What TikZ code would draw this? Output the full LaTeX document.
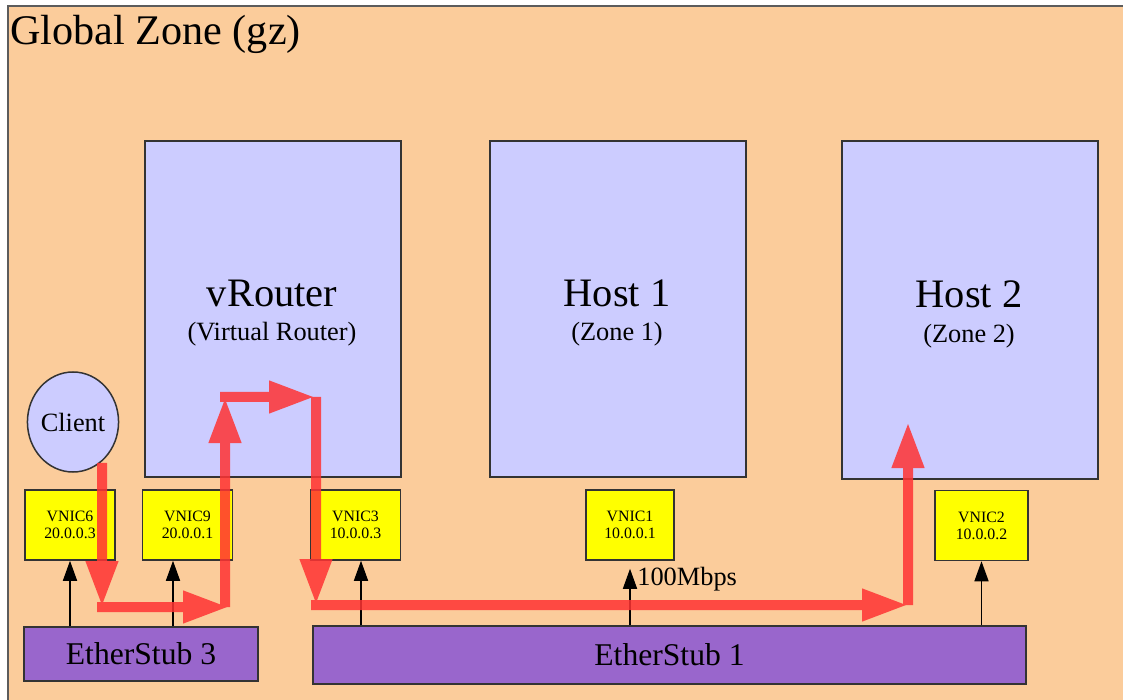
\documentclass[tikz,border=0pt]{standalone}
\usepackage{fontspec}
\setmainfont{Liberation Serif}
\usetikzlibrary{arrows.meta,shapes.geometric}
\definecolor{zonebg}{RGB}{251,204,155}
\definecolor{hostfill}{RGB}{204,204,255}
\definecolor{vnicfill}{RGB}{255,255,0}
\definecolor{stubfill}{RGB}{153,102,204}
\definecolor{flowred}{RGB}{255,51,51}
\definecolor{edgegray}{RGB}{51,51,51}

\begin{document}
\begin{tikzpicture}[x=0.2mm,y=-0.2mm,
  zonebox/.style={draw=edgegray,line width=0.3mm,fill=hostfill,inner sep=0pt,minimum width=51.2mm,minimum height=67.2mm},
  vnic/.style={draw=edgegray,line width=0.3mm,fill=vnicfill,inner sep=0pt,minimum width=18mm,minimum height=14mm,align=center,font=\fontsize{9}{9.7}\selectfont},
  stub/.style={draw=edgegray,line width=0.3mm,fill=stubfill,inner sep=0pt,font=\fontsize{18}{18}\selectfont},
  bigname/.style={anchor=base,font=\fontsize{23}{23}\selectfont},
  subname/.style={anchor=base,font=\fontsize{15}{15}\selectfont},
  link/.style={line width=0.3mm,-{Triangle[length=4mm,width=2.8mm]}},
  flow/.style={flowred,line width=2mm,-{Triangle[length=9.2mm,width=6mm]}}]

  \fill[white] (0,0) rectangle (1123,700);
  \useasboundingbox (0,0) rectangle (1123,700);
  \begin{scope}
    \clip (0,0) rectangle (1123,700);
    \draw[edgegray!80,line width=0.3mm,fill=zonebg] (8,6) rectangle (1140,720);
  \end{scope}
  \node[anchor=base west,inner sep=0pt,font=\fontsize{24}{24}\selectfont] (gz) at (10,45) {Global Zone (gz)};

  % zones
  \node[zonebox] (vr) at (273,309) {};
  \node[zonebox] (h1) at (618,309) {};
  \node[zonebox,minimum height=67.6mm] (h2) at (970,310) {};
  \node[bigname] (vrname) at (272,307) {vRouter};
  \node[subname] (vrsub) at (272,341) {(Virtual Router)};
  \node[bigname] (h1name) at (617,307) {Host 1};
  \node[subname] (h1sub) at (617,341) {(Zone 1)};
  \node[bigname] (h2name) at (969,308) {Host 2};
  \node[subname] (h2sub) at (969,343) {(Zone 2)};

  \node[draw=edgegray,line width=0.3mm,fill=hostfill,ellipse,inner sep=0pt,minimum width=15.6mm,minimum height=20mm,font=\fontsize{15}{15}\selectfont] (client) at (73,422) {Client};

  % vnics
  \node[vnic] (v6) at (70,525) {VNIC6\\20.0.0.3};
  \node[vnic] (v9) at (187.5,525) {VNIC9\\20.0.0.1};
  \node[vnic] (v3) at (355.5,525) {VNIC3\\10.0.0.3};
  \node[vnic,minimum width=17.6mm] (v1) at (630,525) {VNIC1\\10.0.0.1};
  \node[vnic,minimum width=18.6mm] (v2) at (981.5,525.5) {VNIC2\\10.0.0.2};

  % etherstubs
  \node[stub,minimum width=46.8mm,minimum height=10.8mm] (es3) at (141,654) {EtherStub 3};
  \node[stub,minimum width=142.6mm,minimum height=11.6mm] (es1) at (669.5,655) {EtherStub 1};

  \draw[link] (v6.south |- es3.north) -- (v6.south);
  \draw[link] ([xshift=-2.9mm]v9.south |- es3.north) -- ([xshift=-2.9mm]v9.south);
  \draw[link] ([xshift=1.1mm]v3.south |- es1.north) -- ([xshift=1.1mm]v3.south);
  \draw[link] (v1.south |- es1.north) -- ([yshift=-1.6mm]v1.south);
  \draw[link] (v2.south |- es1.north) -- (v2.south);
  \node[anchor=base west,inner sep=0pt,font=\fontsize{15}{15}\selectfont] (speed) at (637,585) {100Mbps};

  % traffic path
  \coordinate (r0) at (102,463);
  \coordinate (r1) at (102,607);
  \coordinate (r2) at (229,607);
  \coordinate (r3) at (225,397);
  \coordinate (r4) at (315,397);
  \coordinate (r5) at (316,605);
  \coordinate (r6) at (908,605);
  \coordinate (r7) at (908,422);
  \begin{scope}[transparency group,opacity=0.85]
    \draw[flow] (r0) -- (r1);
    \draw[flow] ([xshift=-1mm]r1) -- (r2);
    \draw[flow] (r2 -| r3) -- (r3);
    \draw[flow] ([xshift=-1mm]r3) -- (r4);
    \draw[flow] (r4 -| r5) -- (r5);
    \draw[flow] ([xshift=-1mm]r5) -- (r6);
    \draw[flow] (r6 -| r7) -- (r7);
  \end{scope}
\end{tikzpicture}
\end{document}
